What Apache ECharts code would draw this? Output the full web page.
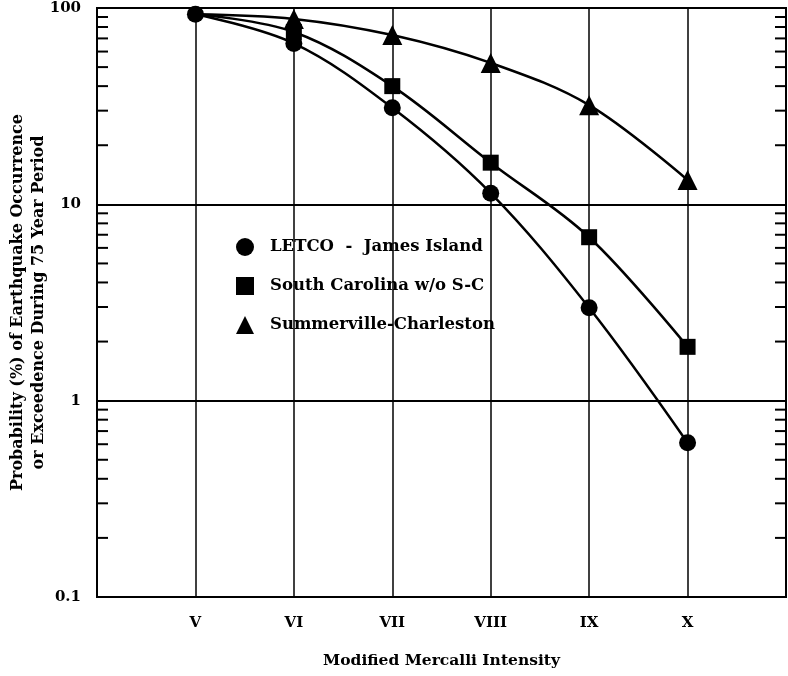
<!DOCTYPE html>
<html>
<head>
<meta charset="utf-8">
<script src="https://cdn.jsdelivr.net/npm/echarts@6/dist/echarts.min.js"></script>
<style>
html,body{margin:0;padding:0;background:#fff;}
#chart{width:788px;height:676px;}
</style>
</head>
<body>
<div id="chart"></div>
<script>
// Categories (Modified Mercalli Intensity), padded with empty slots at both ends
const categories = ['', 'V', 'VI', 'VII', 'VIII', 'IX', 'X', ''];
const intensities = ['V', 'VI', 'VII', 'VIII', 'IX', 'X'];
// Series values (%)
const letco = [93, 66, 31, 11.4, 2.97, 0.61];
const southCarolina = [93, 75.5, 40, 16.3, 6.8, 1.88];
const summerville = [93, 88, 72.8, 52.5, 32, 13.3];
const seriesNames = ['LETCO  -  James Island', 'South Carolina w/o S-C', 'Summerville-Charleston'];
// Y tick labels
const yTickLabels = ['0.1', '1', '10', '100'];
const yTickValues = [0.1, 1, 10, 100];
// Minor tick values on the log axis
const minorTickValues = [0.2,0.3,0.4,0.5,0.6,0.7,0.8,0.9, 2,3,4,5,6,7,8,9, 20,30,40,50,60,70,80,90];

const FONT = 'DejaVu Serif';

function pairs(vals, hideFirst) {
  return vals.map((v, i) => {
    const item = { value: [intensities[i], v] };
    if (hideFirst && i === 0) item.symbol = 'none';
    return item;
  });
}

const chart = echarts.init(document.getElementById('chart'), null, { renderer: 'canvas' });
const lineStyle = { color: '#000', width: 2.5 };

chart.setOption({
  animation: false,
  backgroundColor: '#fff',
  grid: { left: 97, right: 2, top: 8, bottom: 79, show: true, borderColor: '#000', borderWidth: 2, containLabel: false, outerBoundsMode: 'none' },
  legend: {
    orient: 'vertical',
    left: 231,
    top: 233,
    itemWidth: 18,
    itemHeight: 18,
    itemGap: 21,
    selectedMode: false,
    textStyle: { fontFamily: FONT, fontWeight: 'bold', fontSize: 16.5, color: '#000', padding: [0, 0, 0, 11] },
    data: [
      { name: seriesNames[0], icon: 'circle' },
      { name: seriesNames[1], icon: 'rect' },
      { name: seriesNames[2], icon: 'triangle' }
    ]
  },
  xAxis: {
    type: 'category',
    data: categories,
    boundaryGap: false,
    axisLine: { show: true, lineStyle: { color: '#000', width: 2 } },
    axisTick: { show: false },
    axisLabel: { margin: 19, fontFamily: FONT, fontWeight: 'bold', fontSize: 15, color: '#000' },
    splitLine: { show: true, lineStyle: { color: '#000', width: 1.5 } },
    name: 'Modified Mercalli Intensity',
    nameLocation: 'middle',
    nameGap: 56,
    nameMoveOverlap: false,
    nameTextStyle: { fontFamily: FONT, fontWeight: 'bold', fontSize: 15.5, color: '#000' }
  },
  yAxis: {
    type: 'log',
    logBase: 10,
    min: 0.1,
    max: 100,
    axisLine: { show: true, lineStyle: { color: '#000', width: 2 } },
    axisTick: { show: false },
    axisLabel: {
      margin: 16,
      fontFamily: FONT, fontWeight: 'bold', fontSize: 15, color: '#000',
      formatter: function (v) {
        for (let i = 0; i < yTickValues.length; i++) {
          if (Math.abs(Math.log10(v) - Math.log10(yTickValues[i])) < 1e-6) return yTickLabels[i];
        }
        return '';
      }
    },
    splitLine: { show: true, lineStyle: { color: '#000', width: 2 } },
    name: 'Probability (%) of Earthquake Occurrence\nor Exceedence During 75 Year Period',
    nameLocation: 'middle',
    nameGap: 48,
    nameMoveOverlap: false,
    nameTextStyle: { fontFamily: FONT, fontWeight: 'bold', fontSize: 16, color: '#000', lineHeight: 21 }
  },
  series: [
    {
      type: 'custom',
      silent: true,
      data: minorTickValues.map(v => ['V', v]),
      renderItem: function (params, api) {
        const cs = params.coordSys;
        const y = api.coord([api.value(0), api.value(1)])[1];
        return {
          type: 'group',
          children: [
            { type: 'line', shape: { x1: cs.x, y1: y, x2: cs.x + 11, y2: y }, style: { stroke: '#000', lineWidth: 2 } },
            { type: 'line', shape: { x1: cs.x + cs.width - 11, y1: y, x2: cs.x + cs.width, y2: y }, style: { stroke: '#000', lineWidth: 2 } }
          ]
        };
      }
    },
    {
      name: seriesNames[2], type: 'line', smooth: 0.35,
      symbol: 'triangle', symbolSize: 20,
      itemStyle: { color: '#000' }, lineStyle: lineStyle,
      data: pairs(summerville, true)
    },
    {
      name: seriesNames[1], type: 'line', smooth: 0.35,
      symbol: 'rect', symbolSize: 16,
      itemStyle: { color: '#000' }, lineStyle: lineStyle,
      data: pairs(southCarolina, true)
    },
    {
      name: seriesNames[0], type: 'line', smooth: 0.35,
      symbol: 'circle', symbolSize: 17,
      itemStyle: { color: '#000' }, lineStyle: lineStyle,
      data: pairs(letco, false)
    }
  ]
});
</script>
</body>
</html>
